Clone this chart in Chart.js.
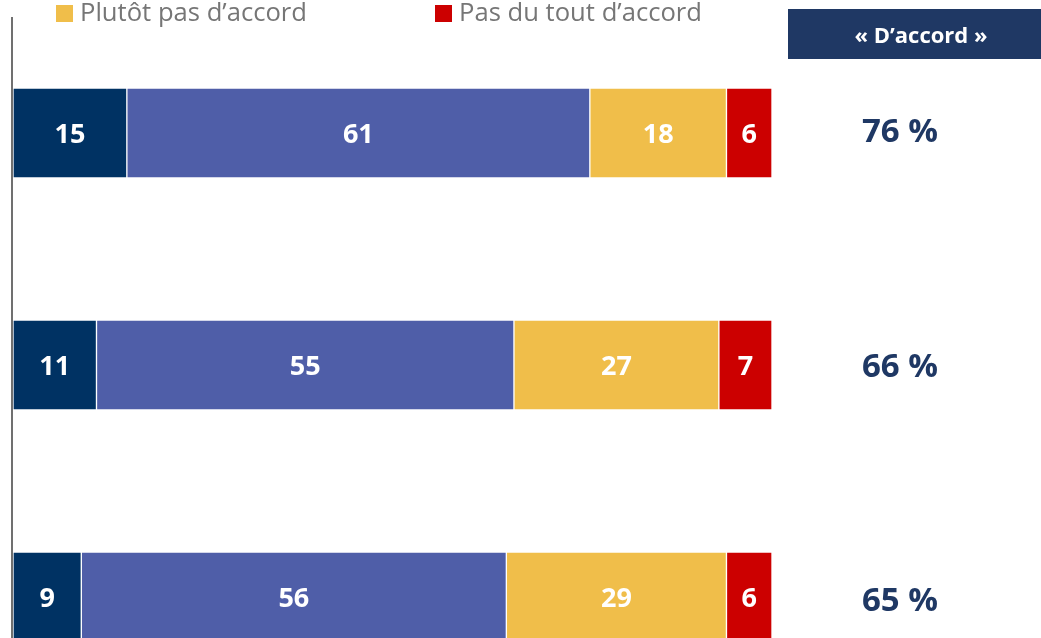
<!DOCTYPE html>
<html lang="fr">
<head>
<meta charset="utf-8">
<title>D'accord</title>
<script src="https://cdn.jsdelivr.net/npm/chart.js"></script>
<style>
  html, body { margin: 0; padding: 0; background: #ffffff; overflow: hidden; }
  #wrap { width: 1041px; height: 714px; }
</style>
</head>
<body>
<div id="wrap"><canvas id="chart" width="1041" height="714"></canvas></div>
<script>
// data
const categories = ['1', '2', '3'];
const seriesNames = ['Tout à fait d’accord', 'Plutôt d’accord', 'Plutôt pas d’accord', 'Pas du tout d’accord'];
const toutAFait = [15, 11, 9];
const plutot = [61, 55, 56];
const plutotPas = [18, 27, 29];
const pasDuTout = [6, 7, 6];
const totals = [76, 66, 65];
const totalHeader = '« D’accord »';

const colors = ['#003263', '#4F5EA8', '#F0BE4A', '#CC0000'];
const NAVY = '#1F3864';
const FONT = '"Open Sans", "DejaVu Sans", sans-serif';

// labels inside the bars + totals column + header box + visible legend
const decorPlugin = {
  id: 'decor',
  afterDatasetsDraw(chart) {
    const ctx = chart.ctx;
    const area = chart.chartArea;
    ctx.save();

    // left axis line
    ctx.strokeStyle = '#707070';
    ctx.lineWidth = 2;
    ctx.beginPath();
    ctx.moveTo(area.left - 1, area.top);
    ctx.lineTo(area.left - 1, area.bottom);
    ctx.stroke();

    // values in segments
    ctx.fillStyle = '#ffffff';
    ctx.font = 'bold 27px ' + FONT;
    ctx.textAlign = 'center';
    ctx.textBaseline = 'middle';
    chart.data.datasets.forEach((ds, i) => {
      chart.getDatasetMeta(i).data.forEach((bar, j) => {
        const cx = (bar.x + bar.base) / 2;
        ctx.fillText(String(ds.data[j]), cx, bar.y + 2);
      });
    });

    // totals column (sits slightly lower than the bars as it goes down)
    const first = chart.getDatasetMeta(0).data;
    ctx.fillStyle = NAVY;
    ctx.font = 'bold 33px ' + FONT;
    totals.forEach((t, j) => {
      ctx.fillText(t + ' %', 900, first[j].y + j * 2.5);
    });

    // header box
    ctx.fillStyle = NAVY;
    ctx.fillRect(788, 9, 260, 50);
    ctx.fillStyle = '#ffffff';
    ctx.font = 'bold 22px ' + FONT;
    ctx.fillText(totalHeader, 921, 37, 140);

    // legend (only the lower row is visible)
    const legendItems = [
      { name: seriesNames[2], color: colors[2], x: 56, w: 227 },
      { name: seriesNames[3], color: colors[3], x: 435, w: 243 }
    ];
    ctx.textAlign = 'left';
    ctx.textBaseline = 'alphabetic';
    ctx.font = '26px ' + FONT;
    legendItems.forEach(it => {
      ctx.fillStyle = it.color;
      ctx.fillRect(it.x, 5, 17, 17);
      ctx.fillStyle = '#767676';
      ctx.fillText(it.name, it.x + 24, 21, it.w);
    });

    ctx.restore();
  }
};

const datasets = [toutAFait, plutot, plutotPas, pasDuTout].map((vals, i) => ({
  label: seriesNames[i],
  data: vals,
  backgroundColor: colors[i],
  borderColor: 'rgba(255,255,255,0.45)',
  borderWidth: 1,
  borderSkipped: false,
  barThickness: 90
}));

new Chart(document.getElementById('chart').getContext('2d'), {
  type: 'bar',
  data: { labels: categories, datasets: datasets },
  options: {
    indexAxis: 'y',
    responsive: false,
    animation: false,
    devicePixelRatio: 1,
    layout: { padding: { left: 13, right: 269, top: 17, bottom: 1 } },
    plugins: { legend: { display: false }, tooltip: { enabled: false } },
    scales: {
      x: { stacked: true, min: 0, max: 100, display: false },
      y: { stacked: true, display: false }
    }
  },
  plugins: [decorPlugin]
});
</script>
</body>
</html>
